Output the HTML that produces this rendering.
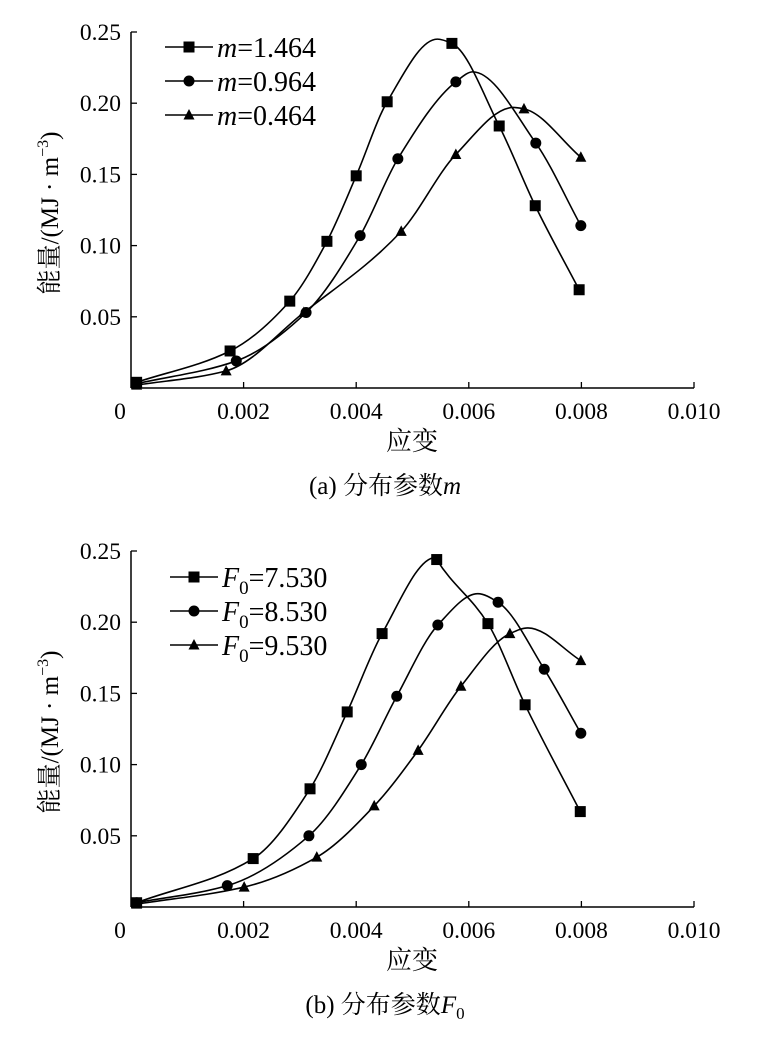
<!DOCTYPE html>
<html><head><meta charset="utf-8">
<style>
html,body{margin:0;padding:0;background:#fff;}
svg{display:block;font-family:"Liberation Serif","Noto Serif CJK SC","Noto Sans CJK SC",serif;}
</style></head>
<body>
<svg id="chart" width="768" height="1037" viewBox="0 0 768 1037"></svg>
<script>
// ---- shared axes ----
const xTicks = [0, 0.002, 0.004, 0.006, 0.008, 0.010];
const xTickLabels = ["0", "0.002", "0.004", "0.006", "0.008", "0.010"];
const yTicks = [0.05, 0.10, 0.15, 0.20, 0.25];
const yTickLabels = ["0.05", "0.10", "0.15", "0.20", "0.25"];

// ---- panel (a) distribution parameter m ----
const aLabels = ["=1.464", "=0.964", "=0.464"];
const aSqX = [0.0001, 0.00176, 0.00282, 0.00348, 0.00400, 0.00455, 0.00570, 0.00654, 0.00718, 0.00796];
const aSqY = [0.004, 0.026, 0.061, 0.103, 0.149, 0.201, 0.242, 0.184, 0.128, 0.069];
const aCiX = [0.0001, 0.00187, 0.00311, 0.00407, 0.00474, 0.00577, 0.00719, 0.00799];
const aCiY = [0.003, 0.019, 0.053, 0.107, 0.161, 0.215, 0.172, 0.114];
const aTrX = [0.0001, 0.00169, 0.00307, 0.00480, 0.00577, 0.00698, 0.00799];
const aTrY = [0.002, 0.012, 0.053, 0.110, 0.164, 0.196, 0.162];
const aPeakX = [0.00544, 0.00607, 0.00679];
const aPeakY = [0.245, 0.222, 0.197];

// ---- panel (b) distribution parameter F0 ----
const bLabels = ["=7.530", "=8.530", "=9.530"];
const bSqX = [0.0001, 0.00217, 0.00318, 0.00384, 0.00446, 0.00543, 0.00634, 0.00700, 0.00798];
const bSqY = [0.003, 0.034, 0.083, 0.137, 0.192, 0.244, 0.199, 0.142, 0.067];
const bCiX = [0.0001, 0.00171, 0.00316, 0.00409, 0.00472, 0.00545, 0.00652, 0.00734, 0.00799];
const bCiY = [0.003, 0.015, 0.050, 0.100, 0.148, 0.198, 0.214, 0.167, 0.122];
const bTrX = [0.0001, 0.00201, 0.00330, 0.00432, 0.00510, 0.00586, 0.00673, 0.00799];
const bTrY = [0.002, 0.014, 0.035, 0.071, 0.110, 0.155, 0.192, 0.173];
const bPeakX = [0.00541, 0.00616, 0.00705];
const bPeakY = [0.2455, 0.220, 0.196];

const NS = "http://www.w3.org/2000/svg";
const svg = document.getElementById("chart");
function el(tag, attrs, parent){
  const e = document.createElementNS(NS, tag);
  for (const k in attrs) e.setAttribute(k, attrs[k]);
  (parent || svg).appendChild(e);
  return e;
}

// Fritsch-Carlson monotone cubic, returns sampled path
function smoothPath(pts){
  const n = pts.length;
  const dx = [], m = [];
  for (let i = 0; i < n-1; i++){ dx.push(pts[i+1][0]-pts[i][0]); m.push((pts[i+1][1]-pts[i][1])/dx[i]); }
  const t = new Array(n);
  t[0] = m[0]; t[n-1] = m[n-2];
  for (let i = 1; i < n-1; i++){
    if (m[i-1]*m[i] <= 0) t[i] = 0;
    else { const w1 = 2*dx[i]+dx[i-1], w2 = dx[i]+2*dx[i-1]; t[i] = (w1+w2)/(w1/m[i-1]+w2/m[i]); }
  }
  let d = "M" + pts[0][0].toFixed(2) + "," + pts[0][1].toFixed(2);
  for (let i = 0; i < n-1; i++){
    const h = dx[i];
    d += " C" + (pts[i][0]+h/3).toFixed(2) + "," + (pts[i][1]+t[i]*h/3).toFixed(2) + " " +
         (pts[i+1][0]-h/3).toFixed(2) + "," + (pts[i+1][1]-t[i+1]*h/3).toFixed(2) + " " +
         pts[i+1][0].toFixed(2) + "," + pts[i+1][1].toFixed(2);
  }
  return d;
}

function marker(g, type, cx, cy){
  let m;
  if (type === 0) m = el("rect", {x: cx-5.5, y: cy-5.5, width: 11, height: 11, fill: "#000"}, g);
  else if (type === 1) m = el("circle", {cx: cx, cy: cy, r: 5.5, fill: "#000"}, g);
  else m = el("polygon", {points: (cx)+","+(cy-6)+" "+(cx-5.5)+","+(cy+4.5)+" "+(cx+5.5)+","+(cy+4.5), fill: "#000"}, g);
  return m;
}

function panel(cfg){
  const x0 = 131, pxPerUnit = 56.3 / 0.001;
  const X = v => x0 + v * pxPerUnit;
  const Y = v => cfg.yZero - v * (71.2 / 0.05);
  const g = el("g", {});
  
  

  const yAxis = el("line", {x1: X(0), y1: Y(0.25), x2: X(0), y2: Y(0), stroke: "#000", "stroke-width": 1.5}, g);
  
  
  const xAxis = el("line", {x1: X(0), y1: Y(0), x2: X(0.010), y2: Y(0), stroke: "#000", "stroke-width": 1.5}, g);
  
  

  for (let i = 0; i < xTicks.length; i++){
    if (i > 0) {
      const t = el("line", {x1: X(xTicks[i]), y1: Y(0), x2: X(xTicks[i]), y2: Y(0)-6, stroke: "#000", "stroke-width": 1.3}, g);
      
      
    }
    const tl = el("text", {x: X(xTicks[i]) + (i===0 ? -11 : 0), y: Y(0)+31, "font-size": 23.5, "text-anchor": "middle"}, g);
    tl.textContent = xTickLabels[i];
    
    
  }
  for (let i = 0; i < yTicks.length; i++){
    const t = el("line", {x1: X(0), y1: Y(yTicks[i]), x2: X(0)+6, y2: Y(yTicks[i]), stroke: "#000", "stroke-width": 1.3}, g);
    
    
    const tl = el("text", {x: X(0)-10, y: Y(yTicks[i])+8, "font-size": 23.5, "text-anchor": "end"}, g);
    tl.textContent = yTickLabels[i];
    
    
  }

  for (let s = 0; s < 3; s++){
    const xs = cfg.xs[s], ys = cfg.ys[s];
    const pts = xs.map((v, i) => [X(v), Y(ys[i])]);
    pts.push([X(cfg.peakX[s]), Y(cfg.peakY[s])]);
    pts.sort((a, b) => a[0] - b[0]);
    const sg = el("g", {}, g);
    
    
    const path = el("path", {d: smoothPath(pts), fill: "none", stroke: "#000", "stroke-width": 1.6}, sg);
    
    
    for (let i = 0; i < xs.length; i++){
      const m = marker(sg, s, X(xs[i]), Y(ys[i]));
      
      
    }
  }

  const lg = el("g", {}, g);
  
  
  for (let s = 0; s < 3; s++){
    const ly = cfg.legY + s * 34;
    const eg = el("g", {}, lg);
    
    
    el("line", {x1: cfg.legX, y1: ly, x2: cfg.legX+48, y2: ly, stroke: "#000", "stroke-width": 1.6}, eg);
    marker(eg, s, cfg.legX+24, ly);
    const t = el("text", {x: cfg.legX+52, y: ly+10, "font-size": 28}, eg);
    if (cfg.isF){
      const a = el("tspan", {"font-style": "italic"}, t); a.textContent = "F";
      const b = el("tspan", {"font-size": 19, dy: 7}, t); b.textContent = "0";
      const c = el("tspan", {dy: -7}, t); c.textContent = cfg.labels[s];
    } else {
      const a = el("tspan", {"font-style": "italic"}, t); a.textContent = "m";
      const c = el("tspan", {}, t); c.textContent = cfg.labels[s];
    }
  }

  const yt = el("text", {x: 0, y: 0, "font-size": 25, "text-anchor": "middle", transform: "translate(58," + (Y(0.125)+3) + ") rotate(-90)"}, g);
  
  
  const y1 = el("tspan", {}, yt); y1.textContent = "能量/(MJ · m";
  const y2 = el("tspan", {"font-size": 16, dy: -10}, yt); y2.textContent = "−3";
  const y3 = el("tspan", {dy: 10}, yt); y3.textContent = ")";

  const xt = el("text", {x: 412, y: Y(0)+62, "font-size": 26, "text-anchor": "middle"}, g);
  xt.textContent = "应变";
  
  

  const cap = el("text", {x: 385, y: Y(0)+106, "font-size": 25, "text-anchor": "middle"}, g);
  
  
  const c1 = el("tspan", {}, cap); c1.textContent = cfg.capText;
  if (cfg.isF){
    const c2 = el("tspan", {"font-style": "italic"}, cap); c2.textContent = "F";
    const c3 = el("tspan", {"font-size": 17, dy: 6}, cap); c3.textContent = "0";
  } else {
    const c2 = el("tspan", {"font-style": "italic"}, cap); c2.textContent = "m";
  }
}

panel({name: "panel-a-chart", yZero: 388, xs: [aSqX, aCiX, aTrX], ys: [aSqY, aCiY, aTrY],
  peakX: aPeakX, peakY: aPeakY, labels: aLabels, legX: 165, legY: 47, isF: false, capText: "(a)  分布参数"});
panel({name: "panel-b-chart", yZero: 907, xs: [bSqX, bCiX, bTrX], ys: [bSqY, bCiY, bTrY],
  peakX: bPeakX, peakY: bPeakY, labels: bLabels, legX: 170, legY: 577, isF: true, capText: "(b)  分布参数"});
</script>
</body></html>
